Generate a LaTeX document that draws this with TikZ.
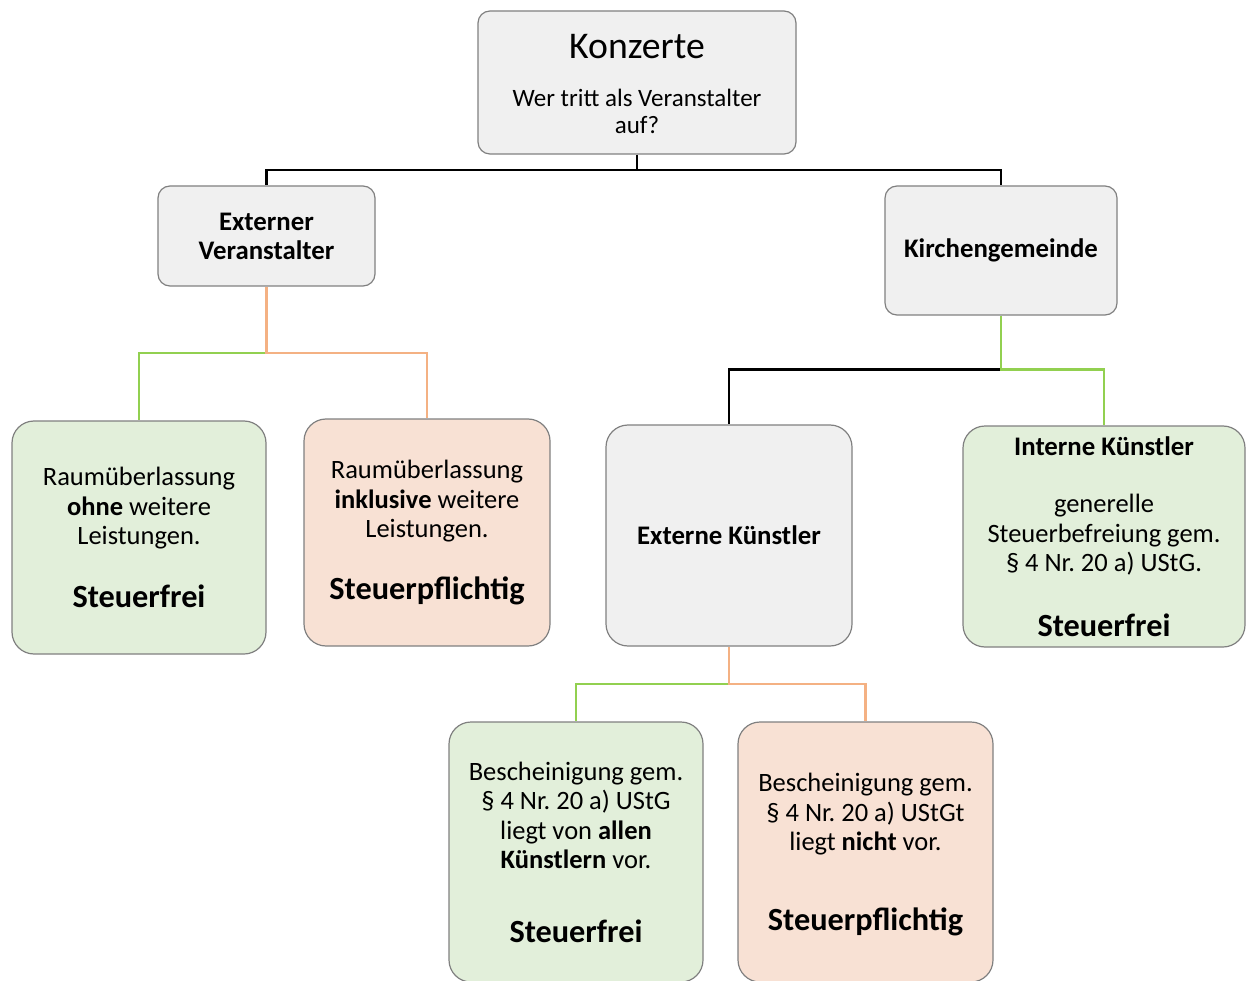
\documentclass[tikz,border=0pt]{standalone}
\usepackage{fontspec}
\setmainfont{Carlito}
\usepackage[dvipsnames]{xcolor}
\frenchspacing

\definecolor{boxgrey}{HTML}{F0F0F0}
\definecolor{boxgreen}{HTML}{E2EFDA}
\definecolor{boxorange}{HTML}{F8E1D4}
\definecolor{linegreen}{HTML}{92D050}
\definecolor{lineorange}{HTML}{F4B183}
\definecolor{rim}{HTML}{808080}

\newcommand{\bodytext}{\fontsize{26.5}{29.5}\selectfont}
\newcommand{\headtext}{\fontsize{26.8}{29}\selectfont\bfseries}
\newcommand{\resulttext}{\fontsize{32.3}{29.5}\selectfont\bfseries}

\begin{document}
\begin{tikzpicture}[x=1pt,y=-1pt,thick,
    base node/.style={draw=rim,line width=1.2pt,inner sep=0pt,align=flush center,font=\bodytext},
    grey node/.style={base node,fill=boxgrey,rounded corners=12pt},
    green node/.style={base node,fill=boxgreen,rounded corners=22pt},
    orange node/.style={base node,fill=boxorange,rounded corners=22pt},
    black line/.style={line width=2.6pt,black},
    green line/.style={line width=2.6pt,linegreen},
    orange line/.style={line width=2.6pt,lineorange}]

    \useasboundingbox (0,0) rectangle (1247,981);
    \clip (0,0) rectangle (1247,981);

    \node[grey node, font=\fontsize{25}{27}\selectfont, text width=318pt, minimum height=143pt] (1) at (637,82.5)
        {\rule{0pt}{27.5pt}{\fontsize{37.7}{27}\selectfont Konzerte}\\[21pt]Wer tritt als Veranstalter\\auf?};
    \node[grey node, font=\headtext, text width=217pt, minimum height=100pt] (2) at (266.5,236)
        {Externer\\Veranstalter};
    \node[grey node, font=\headtext, text width=232pt, minimum height=129pt] (3) at (1001,250.5)
        {Kirchengemeinde};

    \node[green node, text width=254pt, minimum height=233pt] (4) at (139,537.5)
        {Raumüberlassung\\\textbf{ohne} weitere\\Leistungen.\\[33pt]{\resulttext Steuerfrei}};
    \node[orange node, text width=246pt, minimum height=227pt] (5) at (427,532.5)
        {Raumüberlassung\\\textbf{inklusive} weitere\\Leistungen.\\[32pt]{\resulttext Steuerpflichtig}};
    \node[grey node, rounded corners=22pt, font=\headtext, text width=246pt, minimum height=221pt] (6) at (729,535.5)
        {Externe Künstler};
    \node[green node, text width=282pt, minimum height=221pt] (7) at (1104,536.5)
        {{\headtext Interne Künstler}\\[28pt]generelle\\Steuerbefreiung gem.\\\S~4 Nr. 20 a) UStG.\\[35pt]{\resulttext Steuerfrei}};

    \node[green node, text width=254pt, minimum height=260pt] (8) at (576,852)
        {Bescheinigung gem.\\\S~4 Nr. 20 a) UStG\\liegt von \textbf{allen}\\\textbf{Künstlern} vor.\\[44pt]{\resulttext Steuerfrei}};
    \node[orange node, text width=255pt, minimum height=260pt] (9) at (865.5,852)
        {\rule{0pt}{23pt}Bescheinigung gem.\\\S~4 Nr. 20 a) UStGt\\liegt \textbf{nicht} vor.\\[50pt]{\resulttext Steuerpflichtig}};

    % junctions
    \coordinate (j1) at (637,170);
    \coordinate (j2) at (266.5,353);
    \coordinate (j3) at (1001,369.5);
    \coordinate (j4) at (729,684);

    \draw[black line] (1.south) -- (j1) -| (2.north);
    \draw[black line] (j1) -| (3.north);

    \draw[green line] (j2) -| (4.north);
    \draw[orange line] (2.south) -- (j2) -| (5.north);

    \draw[black line] (j3) -| (6.north);
    \draw[green line] (3.south) -- (j3) -| (7.north);

    \draw[green line] (j4) -| (8.north);
    \draw[orange line] (6.south) -- (j4) -| (9.north);

\end{tikzpicture}
\end{document}
